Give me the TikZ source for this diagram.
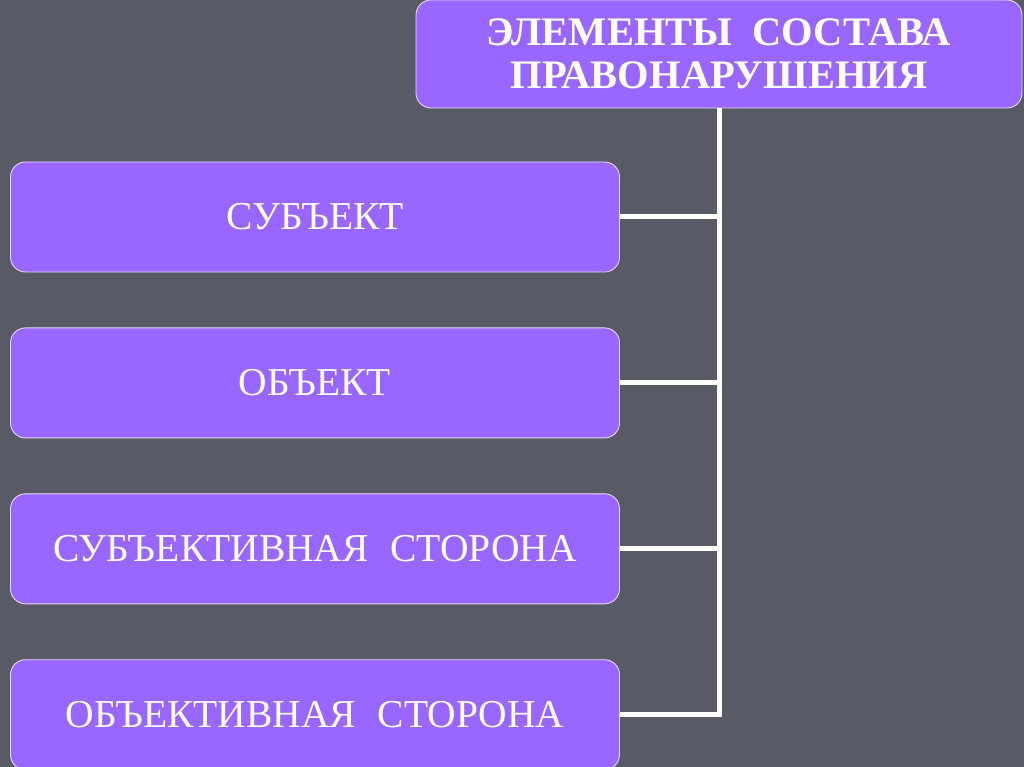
\documentclass[tikz,border=0pt]{standalone}
\usepackage{fontspec}
\setmainfont{Liberation Serif}
\usetikzlibrary{positioning}
\definecolor{slidegray}{HTML}{585A66}
\definecolor{boxviolet}{HTML}{9966FF}

\begin{document}
\begin{tikzpicture}
		[x=1pt,y=-1pt,
		 node distance=55pt,
		 block/.style={rectangle,draw=white!75!boxviolet,line width=0.9pt,fill=boxviolet,rounded corners=15pt,text=white,minimum width=609pt,minimum height=110pt,font=\fontsize{39.5}{43}\selectfont},
		 link/.style={draw=white,line width=5pt}]

		\useasboundingbox (0,0) rectangle (1024,767);
		\fill[slidegray] (0,0) rectangle (1024,767);
		\clip (0,0) rectangle (1024,767);

		\node[block,minimum width=606pt,minimum height=108pt,align=center,font=\bfseries\fontsize{40.5}{43}\selectfont] (elements) at (719,54) {ЭЛЕМЕНТЫ\ \ СОСТАВА\\ПРАВОНАРУШЕНИЯ};

		\node[block] (subject) at (315,217) {СУБЪЕКТ};
		\node[block] (object) [below=of subject] {ОБЪЕКТ};
		\node[block] (subjside) [below=of object] {СУБЪЕКТИВНАЯ\hspace{0.55em}СТОРОНА};
		\node[block] (objside) [below=of subjside] {ОБЪЕКТИВНАЯ\hspace{0.55em}СТОРОНА};

		\draw[link] (elements.south) |- (subject.east);
		\draw[link] (elements.south) |- (object.east);
		\draw[link] (elements.south) |- (subjside.east);
		\draw[link] (elements.south) |- (objside.east);
	\end{tikzpicture}
\end{document}
